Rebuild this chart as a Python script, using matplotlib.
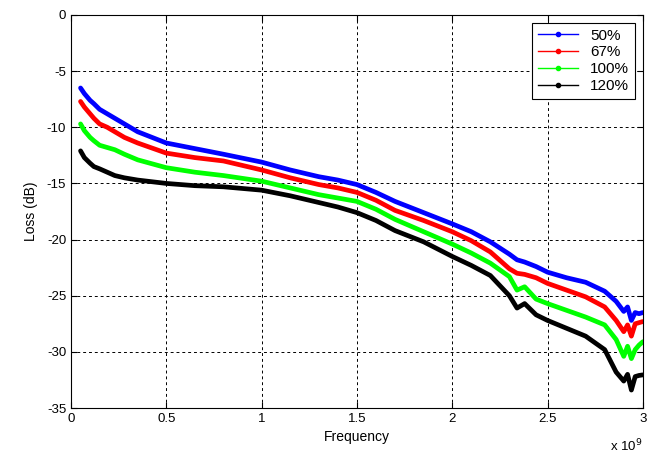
import numpy as np
import matplotlib.pyplot as plt
from matplotlib.lines import Line2D

plt.rcParams['font.family'] = 'Liberation Sans'
plt.rcParams['axes.unicode_minus'] = False

# frequency in units of 1e9 Hz
freq = [0.05, 0.07, 0.1, 0.12, 0.15, 0.19, 0.23, 0.28, 0.35, 0.5, 0.65, 0.8, 1.0, 1.15, 1.3,
        1.4, 1.5, 1.6, 1.7, 1.85, 2.0, 2.1, 2.2, 2.3, 2.34, 2.38, 2.44, 2.5, 2.6, 2.7,
        2.8, 2.86, 2.9, 2.92, 2.94, 2.96, 2.98, 3.0]

loss_50 = [-6.5, -7.0, -7.6, -7.9, -8.4, -8.8, -9.2, -9.7, -10.4, -11.4, -11.9, -12.4, -13.1,
           -13.8, -14.4, -14.7, -15.1, -15.8, -16.6, -17.6, -18.6, -19.3, -20.2, -21.3,
           -21.8, -22.0, -22.4, -22.9, -23.4, -23.8, -24.6, -25.5, -26.4, -26.0, -27.2,
           -26.5, -26.6, -26.5]
loss_67 = [-7.7, -8.2, -8.8, -9.2, -9.7, -10.0, -10.4, -10.9, -11.4, -12.3, -12.7, -13.0, -13.8,
           -14.5, -15.1, -15.4, -15.8, -16.5, -17.4, -18.3, -19.3, -20.1, -21.1, -22.6,
           -23.0, -23.1, -23.4, -23.9, -24.5, -25.1, -26.0, -27.2, -28.2, -27.6, -28.6,
           -27.5, -27.4, -27.3]
loss_100 = [-9.7, -10.3, -10.9, -11.2, -11.6, -11.8, -12.0, -12.4, -12.9, -13.6, -14.0, -14.3,
            -14.8, -15.4, -16.0, -16.3, -16.6, -17.3, -18.2, -19.3, -20.4, -21.2, -22.1,
            -23.3, -24.5, -24.2, -25.3, -25.7, -26.3, -26.9, -27.6, -28.9, -30.4, -29.5,
            -30.6, -29.8, -29.4, -29.1]
loss_120 = [-12.1, -12.7, -13.2, -13.5, -13.7, -14.0, -14.3, -14.5, -14.7, -15.0, -15.2, -15.3,
            -15.6, -16.1, -16.7, -17.1, -17.6, -18.3, -19.2, -20.2, -21.5, -22.3, -23.2,
            -25.0, -26.1, -25.7, -26.7, -27.2, -27.9, -28.6, -29.8, -31.8, -32.6, -32.0,
            -33.4, -32.2, -32.1, -32.05]

labels = ['50%', '67%', '100%', '120%']
colors = ['#0000ff', '#ff0000', '#00ff00', '#000000']

fig = plt.figure(figsize=(6.48, 4.53), dpi=100)
ax = fig.add_axes([0.1096, 0.0993, 0.8824, 0.8676])

for y, c in zip([loss_50, loss_67, loss_100, loss_120], colors):
    ax.plot(freq, y, color=c, lw=3.4, solid_joinstyle='round', solid_capstyle='round')

ax.set_xlim(0, 3)
ax.set_ylim(-35, 0)
ax.set_xticks([0, 0.5, 1, 1.5, 2, 2.5, 3])
ax.set_xticklabels(['0', '0.5', '1', '1.5', '2', '2.5', '3'])
ax.set_yticks(range(-35, 1, 5))
ax.tick_params(direction='in', top=True, right=True, labelsize=9.5, length=4, width=0.8)
ax.grid(True, color='black', linestyle=(0, (3, 3)), lw=0.7)
for s in ax.spines.values():
    s.set_linewidth(0.8)

ax.set_xlabel('Frequency', fontsize=10, labelpad=4)
ax.set_ylabel('Loss (dB)', fontsize=10, labelpad=6)
ax.text(1.0, -0.075, r'x 10$^{9}$', transform=ax.transAxes, ha='right', va='top', fontsize=9.5)

handles = [Line2D([0], [0], color=c, lw=1, marker='.', markersize=6) for c in colors]
leg = ax.legend(handles, labels, loc='upper right', fontsize=11, fancybox=False,
                framealpha=1, edgecolor='black', borderaxespad=0.5, handlelength=2.6,
                handletextpad=0.8, labelspacing=0.18, borderpad=0.4)
leg.get_frame().set_linewidth(0.8)

fig.savefig('out.png', dpi=100)
